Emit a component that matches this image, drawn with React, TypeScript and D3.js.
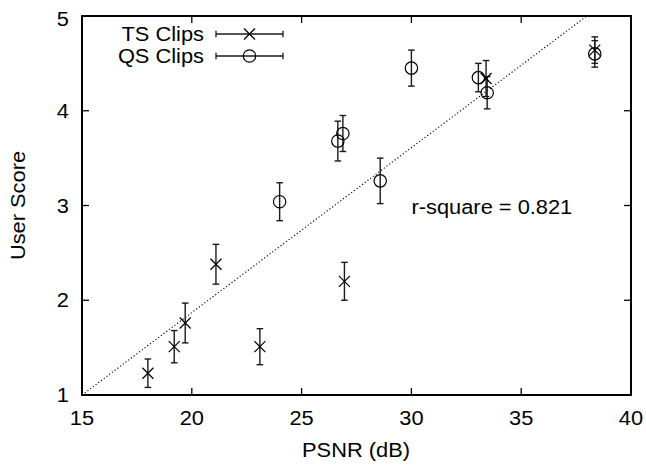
import React from "react";
import * as d3 from "d3";

const tsX = [18.0, 19.2, 19.7, 21.1, 23.1, 26.95, 33.4, 38.35];
const tsY = [1.23, 1.51, 1.76, 2.38, 1.51, 2.2, 4.34, 4.64];
const tsErr = [0.15, 0.17, 0.21, 0.21, 0.19, 0.2, 0.19, 0.14];

const qsX = [24.0, 26.65, 26.88, 28.58, 30.0, 33.05, 33.45, 38.35];
const qsY = [3.04, 3.68, 3.76, 3.26, 4.45, 4.35, 4.19, 4.6];
const qsErr = [0.2, 0.21, 0.19, 0.24, 0.19, 0.15, 0.17, 0.14];

const xTicks = [15, 20, 25, 30, 35, 40];
const yTicks = [1, 2, 3, 4, 5];
const fitSlope = 0.174;
const fitIntercept = -1.61;
const rSquareLabel = "r-square = 0.821";
const legendLabels = ["TS Clips", "QS Clips"];

const W = 646;
const H = 466;
const L = 82, R = 631, T = 16, B = 395;
const FONT = "'Liberation Sans', Arial, Helvetica, sans-serif";
const FS = 19.5;
const SX = 1.12;

export default function App() {
  const x = d3.scaleLinear().domain([15, 40]).range([L, R]);
  const y = d3.scaleLinear().domain([1, 5]).range([B, T]);
  const tick = 7;
  const cap = 3.3;
  const xs = 5.5;
  const cr = 6.2;

  const Txt = ({ px, py, anchor, children, rotate }: any) => (
    <g transform={`translate(${px},${py})${rotate ? ` rotate(${rotate})` : ""} scale(${SX},1)`}>
      <text x={0} y={0} textAnchor={anchor} fontFamily={FONT} fontSize={FS} fill="#000">
        {children}
      </text>
    </g>
  );

  const errBar = (cx: number, cy: number, e: number, key: string) => {
    const px = x(cx);
    const y0 = y(cy - e);
    const y1 = y(cy + e);
    return (
      <g key={key} stroke="#1a1a1a" strokeWidth={1.4}>
        <line x1={px} x2={px} y1={y0} y2={y1} />
        <line x1={px - cap} x2={px + cap} y1={y0} y2={y0} />
        <line x1={px - cap} x2={px + cap} y1={y1} y2={y1} />
      </g>
    );
  };

  const cross = (px: number, py: number, key: string) => (
    <g key={key} stroke="#000" strokeWidth={1.2}>
      <line x1={px - xs} x2={px + xs} y1={py - xs} y2={py + xs} />
      <line x1={px - xs} x2={px + xs} y1={py + xs} y2={py - xs} />
    </g>
  );

  const circ = (px: number, py: number, key: string) => (
    <circle key={key} cx={px} cy={py} r={cr} fill="none" stroke="#000" strokeWidth={1.2} />
  );

  const fx0 = (1 - fitIntercept) / fitSlope;
  const fx1 = (5 - fitIntercept) / fitSlope;

  const legY = [34, 56];
  const legX0 = 216, legX1 = 283, legMid = 249.5;

  return (
    <svg width={W} height={H} style={{ position: "absolute", left: 0, top: 0, background: "#fff" }}>
      <rect x={0} y={0} width={W} height={H} fill="#fff" />
      <line
        x1={x(fx0)} y1={y(fitSlope * fx0 + fitIntercept)}
        x2={x(fx1)} y2={y(fitSlope * fx1 + fitIntercept)}
        stroke="#000" strokeWidth={1.1} strokeDasharray="1.2,2.2"
      />
      {xTicks.map((t, i) => (
        <g key={"xt" + i} stroke="#000" strokeWidth={1.3}>
          <line x1={x(t)} x2={x(t)} y1={B} y2={B - tick} />
          <line x1={x(t)} x2={x(t)} y1={T} y2={T + tick} />
        </g>
      ))}
      {yTicks.map((t, i) => (
        <g key={"yt" + i} stroke="#000" strokeWidth={1.3}>
          <line x1={L} x2={L + tick} y1={y(t)} y2={y(t)} />
          <line x1={R} x2={R - tick} y1={y(t)} y2={y(t)} />
        </g>
      ))}
      {xTicks.map((t, i) => (
        <Txt key={"xl" + i} px={x(t)} py={425} anchor="middle">{String(t)}</Txt>
      ))}
      {yTicks.map((t, i) => (
        <Txt key={"yl" + i} px={69} py={y(t) + (t === 5 ? 9.5 : 7)} anchor="end">{String(t)}</Txt>
      ))}
      {tsX.map((v, i) => errBar(v, tsY[i], tsErr[i], "te" + i))}
      {qsX.map((v, i) => errBar(v, qsY[i], qsErr[i], "qe" + i))}
      {tsX.map((v, i) => cross(x(v), y(tsY[i]), "tm" + i))}
      {qsX.map((v, i) => circ(x(v), y(qsY[i]), "qm" + i))}
      <rect x={L} y={T} width={R - L} height={B - T} fill="none" stroke="#000" strokeWidth={2} />
      {legendLabels.map((lab, i) => (
        <g key={"lg" + i}>
          <Txt px={204} py={legY[i] + 7} anchor="end">{lab}</Txt>
          <g stroke="#1a1a1a" strokeWidth={1.3}>
            <line x1={legX0} x2={legX1} y1={legY[i]} y2={legY[i]} />
            <line x1={legX0} x2={legX0} y1={legY[i] - cap} y2={legY[i] + cap} />
            <line x1={legX1} x2={legX1} y1={legY[i] - cap} y2={legY[i] + cap} />
          </g>
          {i === 0 ? cross(legMid, legY[i], "lc") : circ(legMid, legY[i], "lo")}
        </g>
      ))}
      <Txt px={411.5} py={214} anchor="start">{rSquareLabel}</Txt>
      <Txt px={356} py={456.5} anchor="middle">PSNR (dB)</Txt>
      <Txt px={25} py={205.5} anchor="middle" rotate={-90}>User Score</Txt>
    </svg>
  );
}
